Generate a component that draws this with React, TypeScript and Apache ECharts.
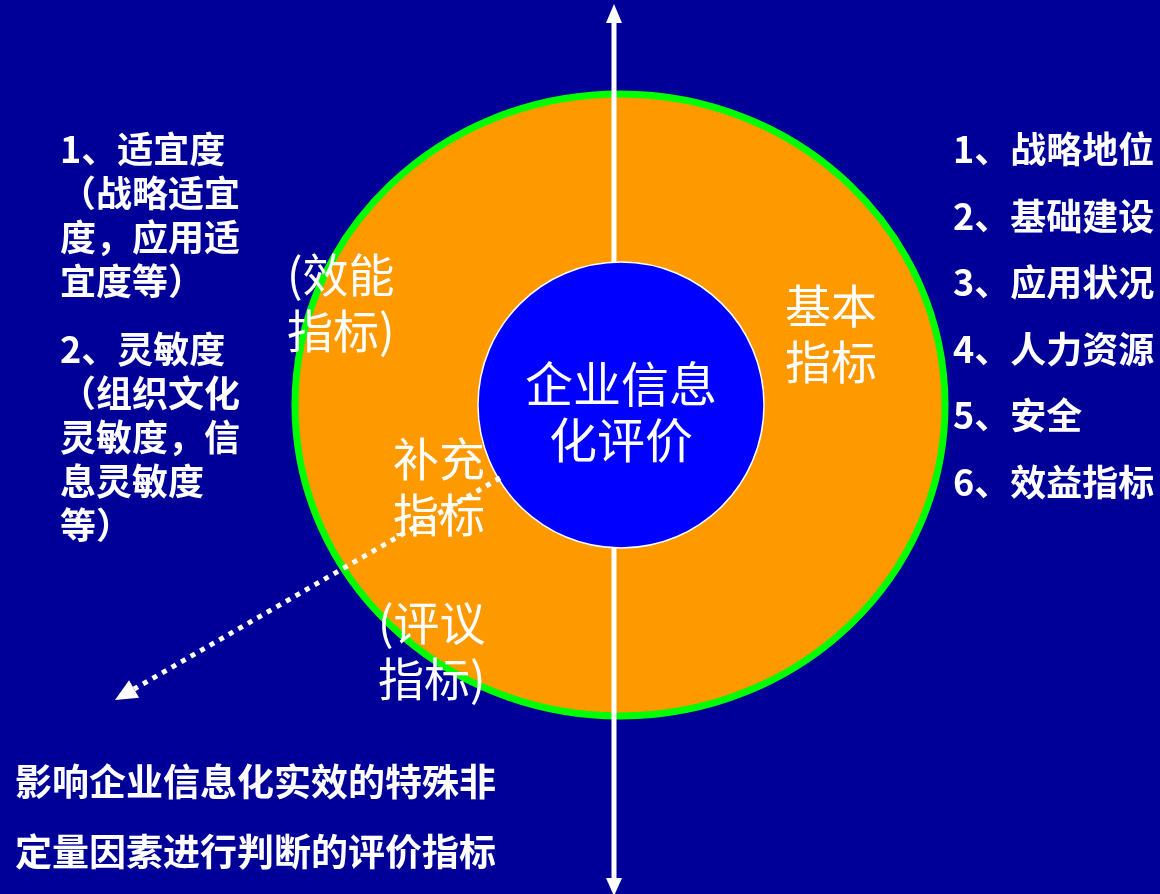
import React, { useEffect, useRef } from "react";
import * as echarts from "echarts";

const leftGroup1: string[] = ["1、适宜度", "（战略适宜", "度，应用适", "宜度等）"];
const leftGroup2: string[] = ["2、灵敏度", "（组织文化", "灵敏度，信", "息灵敏度", "等）"];
const rightList: string[] = ["1、战略地位", "2、基础建设", "3、应用状况", "4、人力资源", "5、安全", "6、效益指标"];
const centerLabel: string[] = ["企业信息", "化评价"];
const ringLabels: { lines: string[]; x: number; y: number }[] = [
  { lines: ["(效能", "指标)"], x: 287, y: 272 },
  { lines: ["基本", "指标"], x: 785, y: 303 },
  { lines: ["补充", "指标"], x: 393, y: 456 },
  { lines: ["(评议", "指标)"], x: 378, y: 620 },
];
const bottomNote: string[] = ["影响企业信息化实效的特殊非", "定量因素进行判断的评价指标"];

const FONT = '"Noto Sans CJK SC", "Noto Sans", sans-serif';

export default function App() {
  const ref = useRef<HTMLDivElement>(null);
  useEffect(() => {
    if (!ref.current) return;
    const chart = echarts.init(ref.current, null, { renderer: "svg" });
    const W = 1160, H = 894;
    const cx = 620, cy = 405;
    const lineX = 614;
    const elements: any[] = [];
    elements.push({ type: "rect", shape: { x: 0, y: 0, width: W, height: H }, style: { fill: "#000099" }, z: 0 });
    elements.push({ type: "ellipse", shape: { cx, cy, rx: 325, ry: 311 }, style: { fill: "#FF9900", stroke: "#00FF00", lineWidth: 7 }, z: 1 });
    // vertical axis line with arrows
    elements.push({ type: "line", shape: { x1: lineX, y1: 20, x2: lineX, y2: 880 }, style: { stroke: "#FFFFFF", lineWidth: 5 }, z: 2 });
    elements.push({ type: "polygon", shape: { points: [[lineX, 4], [lineX - 8, 23], [lineX + 8, 23]] }, style: { fill: "#FFFFFF" }, z: 2 });
    elements.push({ type: "polygon", shape: { points: [[lineX, 896], [lineX - 8, 878], [lineX + 8, 878]] }, style: { fill: "#FFFFFF" }, z: 2 });
    // inner circle
    elements.push({ type: "ellipse", shape: { cx: 621, cy: 405, rx: 143, ry: 143 }, style: { fill: "#0000FF", stroke: "#FFFFFF", lineWidth: 1.5 }, z: 3 });
    // dotted arrow
    const tip = [115, 700];
    const start = [500, 478];
    const dx = tip[0] - start[0], dy = tip[1] - start[1];
    const len = Math.hypot(dx, dy);
    const ux = dx / len, uy = dy / len;
    const hl = 22, hw = 10;
    const bx = tip[0] - hl * ux, by = tip[1] - hl * uy;
    elements.push({ type: "line", shape: { x1: start[0], y1: start[1], x2: bx, y2: by }, style: { stroke: "#FFFFFF", lineWidth: 5, lineDash: [5, 6] }, z: 4 });
    elements.push({
      type: "polygon",
      shape: { points: [tip, [bx - hw * uy, by + hw * ux], [bx + hw * uy, by - hw * ux]] },
      style: { fill: "#FFFFFF" },
      z: 4,
    });

    const block = (lines: string[], x: number, yFirst: number, size: number, lh: number, weight: string, align = "left") => ({
      type: "text",
      z: 5,
      style: {
        text: lines.join("\n"),
        x,
        y: yFirst - lh / 2,
        fill: "#FFFFFF",
        fontSize: size,
        fontWeight: weight,
        fontFamily: FONT,
        lineHeight: lh,
        align,
        verticalAlign: "top",
      },
    });

    elements.push(block(leftGroup1, 60, 147, 36, 44, "bold"));
    elements.push(block(leftGroup2, 60, 347, 36, 44, "bold"));
    elements.push(block(rightList, 953, 147, 36, 66.6, "bold"));
    elements.push(block(centerLabel, 621, 381, 48, 56, "normal", "center"));
    ringLabels.forEach((g) => elements.push(block(g.lines, g.x, g.y, 46, 56, "normal")));
    elements.push(block(bottomNote, 15, 780, 37, 70, "bold"));

    chart.setOption({ animation: false, graphic: elements });
    return () => chart.dispose();
  }, []);
  return <div ref={ref} style={{ position: "fixed", left: 0, top: 0, width: 1160, height: 894 }} />;
}
